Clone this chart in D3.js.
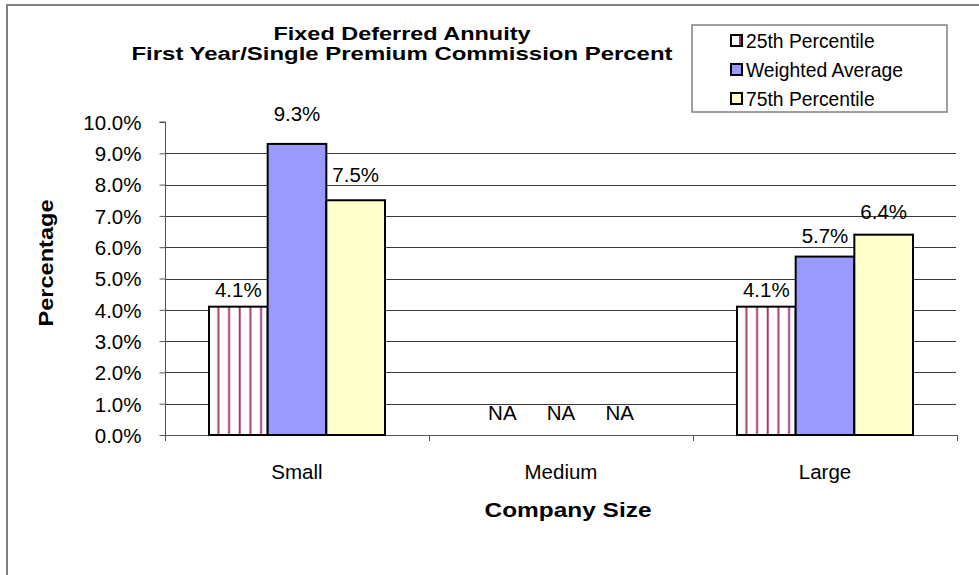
<!DOCTYPE html>
<html><head><meta charset="utf-8">
<script src="https://cdn.jsdelivr.net/npm/d3@7"></script>
<style>
html,body{margin:0;padding:0;background:#fff;}
svg{display:block;font-family:"Liberation Sans",Arial,sans-serif;}
</style></head>
<body><svg id="chart" width="979" height="575"></svg>
<script>
const categories = ["Small", "Medium", "Large"];
const seriesNames = ["25th Percentile", "Weighted Average", "75th Percentile"];
const p25 = [4.1, null, 4.1];
const wavg = [9.3, null, 5.7];
const p75 = [7.5, null, 6.4];
const yTicks = [0,1,2,3,4,5,6,7,8,9,10];
const titleLines = ["Fixed Deferred Annuity", "First Year/Single Premium Commission Percent"];
const yTitle = "Percentage";
const xTitle = "Company Size";

const seriesValues = [p25, wavg, p75];
const fills = ["url(#stripes)", "#9999FF", "#FFFFCC"];

const svg = d3.select("#chart");
const defs = svg.append("defs");

// outer chart frame (extends past the window on right & bottom)
svg.append("rect").attr("x",7).attr("y",5).attr("width",1000).attr("height",600)
  .attr("fill","none").attr("stroke","#808080").attr("stroke-width",2);

const plot = {left:165, right:957, top:122, bottom:435};
const y = d3.scaleLinear().domain([0,10]).range([plot.bottom, plot.top]);
// data-label placement scale (labels sit progressively higher above taller bars)
const yLab = d3.scaleLinear().domain([0,10]).range([plot.bottom+1, plot.top-25]);
const x0 = d3.scaleBand().domain(categories).range([plot.left, plot.right]);
const x1 = d3.scaleBand().domain(seriesNames).range([0, x0.bandwidth()]).paddingOuter(0.75);

// gridlines
svg.append("g").selectAll("line").data(yTicks.filter(d=>d>0 && d<10)).join("line")
  .attr("x1",plot.left).attr("x2",plot.right-1)
  .attr("y1",d=>Math.round(y(d))+0.5).attr("y2",d=>Math.round(y(d))+0.5)
  .attr("stroke","#3a3a3a").attr("stroke-width",1);

// y axis
const yAxis = d3.axisLeft(y).tickValues(yTicks).tickFormat(d=>d.toFixed(1)+"%").tickSize(6).tickPadding(18);
const gy = svg.append("g").attr("transform",`translate(${plot.left+0.5},0)`).call(yAxis);
gy.select(".domain").attr("stroke","#555").attr("d",`M-6,${y(10)}H0V${y(0)}`);
gy.selectAll(".tick line").attr("stroke","#555");
gy.selectAll(".tick text").attr("font-size","20.5px").attr("fill","#000")
  .attr("font-family","Liberation Sans, Arial, sans-serif").attr("dy","0.36em");

// x axis
svg.append("line").attr("x1",plot.left).attr("x2",plot.right).attr("y1",plot.bottom+0.5).attr("y2",plot.bottom+0.5)
  .attr("stroke","#555");
const bounds = categories.map(c=>x0(c)).concat([plot.right]);
svg.append("g").selectAll("line").data(bounds).join("line")
  .attr("x1",d=>d+0.5).attr("x2",d=>d+0.5).attr("y1",plot.bottom).attr("y2",plot.bottom+6)
  .attr("stroke","#555");
svg.append("g").selectAll("text").data(categories).join("text")
  .attr("x",d=>x0(d)+x0.bandwidth()/2).attr("y",479)
  .attr("text-anchor","middle").attr("font-size","20.5px").text(d=>d);

// bars
const barData = [];
categories.forEach((c,ci)=>{
  seriesNames.forEach((s,si)=>{
    barData.push({cat:c, ser:s, si:si, v:seriesValues[si][ci], id:`${ci}_${si}`});
  });
});

// per-bar stripe patterns aligned to each striped bar
barData.filter(d=>d.si===0 && d.v!=null).forEach(d=>{
  const bx = x0(d.cat)+x1(d.ser);
  const pw = x1.bandwidth()/5.5;
  const pat = defs.append("pattern").attr("id","stripes"+d.id).attr("patternUnits","userSpaceOnUse")
    .attr("x",bx).attr("y",0).attr("width",pw).attr("height",10);
  pat.append("rect").attr("width",pw).attr("height",10).attr("fill","#fff");
  pat.append("rect").attr("x",pw-2.6).attr("width",2.6).attr("height",10).attr("fill","#f0d8e4");
  pat.append("rect").attr("x",pw-2.1).attr("width",1.7).attr("height",10).attr("fill","#993366");
});

const gb = svg.append("g");
gb.selectAll("rect").data(barData.filter(d=>d.v!=null)).join("rect")
  .attr("x",d=>x0(d.cat)+x1(d.ser))
  .attr("y",d=>y(d.v))
  .attr("width",x1.bandwidth())
  .attr("height",d=>y(0)-y(d.v))
  .attr("fill",d=>d.si===0 ? `url(#stripes${d.id})` : fills[d.si])
  .attr("stroke","#000").attr("stroke-width",2);

// data labels
svg.append("g").selectAll("text").data(barData).join("text")
  .attr("x",d=>x0(d.cat)+x1(d.ser)+x1.bandwidth()/2)
  .attr("y",d=>d.v==null ? y(0)-15 : yLab(d.v))
  .attr("text-anchor","middle").attr("font-size","20.5px")
  .text(d=>d.v==null ? "NA" : d.v.toFixed(1)+"%");

// title
const tl = [257, 541];
svg.append("g").selectAll("text").data(titleLines).join("text")
  .attr("x",402).attr("y",(d,i)=>40+i*19.5)
  .attr("text-anchor","middle").attr("font-weight","bold").attr("font-size","18.8px")
  .attr("textLength",(d,i)=>tl[i]).attr("lengthAdjust","spacingAndGlyphs")
  .text(d=>d);

// axis titles
svg.append("text").attr("transform","translate(53,263) rotate(-90)")
  .attr("text-anchor","middle").attr("font-weight","bold").attr("font-size","21px")
  .attr("textLength",127).attr("lengthAdjust","spacingAndGlyphs").text(yTitle);
svg.append("text").attr("x",568).attr("y",517)
  .attr("text-anchor","middle").attr("font-weight","bold").attr("font-size","20.5px")
  .attr("textLength",167).attr("lengthAdjust","spacingAndGlyphs").text(xTitle);

// legend
const lg = svg.append("g");
lg.append("rect").attr("x",692).attr("y",25).attr("width",255).attr("height",87)
  .attr("fill","#fff").attr("stroke","#808080").attr("stroke-width",1.5);
defs.append("pattern").attr("id","legstripe").attr("patternUnits","userSpaceOnUse")
  .attr("x",731).attr("y",0).attr("width",12).attr("height",10)
  .call(p=>{p.append("rect").attr("width",12).attr("height",10).attr("fill","#fff");
            p.append("rect").attr("x",8).attr("width",3).attr("height",10).attr("fill","#993366");});
const ly = d3.scalePoint().domain(seriesNames).range([40.5,98.5]);
lg.selectAll("rect.sw").data(seriesNames).join("rect").attr("class","sw")
  .attr("x",731).attr("y",d=>ly(d)-5.5).attr("width",11).attr("height",11)
  .attr("fill",(d,i)=>i===0?"url(#legstripe)":fills[i]).attr("stroke","#000").attr("stroke-width",2);
lg.selectAll("text").data(seriesNames).join("text")
  .attr("x",746).attr("y",d=>ly(d)+7).attr("font-size","19.3px").text(d=>d);
</script></body></html>
